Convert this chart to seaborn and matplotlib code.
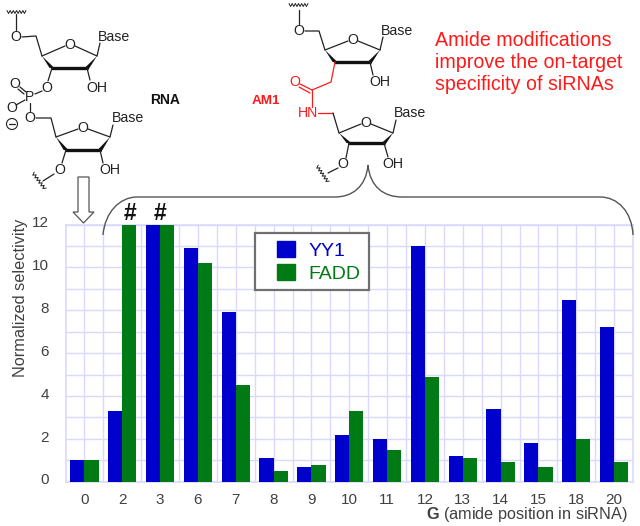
import matplotlib
matplotlib.use("Agg")
import matplotlib.pyplot as plt
from matplotlib.legend_handler import HandlerPatch
from matplotlib.path import Path
from matplotlib.patches import Circle, PathPatch, Polygon, Rectangle
from matplotlib.transforms import ScaledTranslation
import pandas as pd
import seaborn as sns

positions = ["0", "2", "3", "6", "7", "8", "9", "10", "11", "12", "13", "14", "15", "18", "20"]
yy1 = [1, 3.3, 12, 10.9, 7.9, 1.1, 0.7, 2.2, 2.0, 11, 1.2, 3.4, 1.8, 8.5, 7.2]
fadd = [1, 12, 12, 10.2, 4.5, 0.5, 0.8, 3.3, 1.5, 4.9, 1.1, 0.9, 0.7, 2.0, 0.9]

BLUE = "#0000CC"
GREEN = "#007A14"
GRID = "#D9D9FF"
GREY = "#404040"
RED = "#FF1A1A"

sns.set_theme(style="white")
plt.rcParams["font.family"] = ["Liberation Sans", "DejaVu Sans"]
plt.rcParams["mathtext.fontset"] = "custom"
plt.rcParams["mathtext.bf"] = "Liberation Sans:bold"
plt.rcParams["mathtext.rm"] = "Liberation Sans"

df = pd.DataFrame({"pos": positions * 2,
                   "value": yy1 + fadd,
                   "series": ["YY1"] * len(yy1) + ["FADD"] * len(fadd)})

W, H = 640, 526
fig = plt.figure(figsize=(6.4, 5.26), dpi=100)
ax = fig.add_axes([65.5 / W, 1 - 481.7 / H, 567.5 / W, 257.2 / H])

sns.barplot(data=df, x="pos", y="value", hue="series", order=positions, ax=ax,
            palette={"YY1": BLUE, "FADD": GREEN}, width=0.75, gap=0,
            saturation=1, errorbar=None, legend=False, zorder=3, linewidth=0)

ax.set_xlim(-0.5, len(positions) - 0.5)
ax.set_ylim(0, 12)
ax.set_yticks(range(0, 13, 2))
ax.set_yticks(range(1, 12, 2), minor=True)
ax.set_xticks([i + 0.5 for i in range(len(positions) - 1)], minor=True)
ax.grid(which="both", color=GRID, lw=1)
ax.set_axisbelow(True)
ax.tick_params(which="both", length=0)
ax.tick_params(axis="x", labelsize=11, labelcolor=GREY, pad=8)
ax.tick_params(axis="y", labelsize=11, labelcolor=GREY, pad=12)
for lab in ax.get_yticklabels():
    lab.set_transform(lab.get_transform() + ScaledTranslation(0, 2 / 72, fig.dpi_scale_trans))
for s in ax.spines.values():
    s.set_color(GRID)
    s.set_linewidth(1.2)

ax.set_ylabel("Normalized selectivity", fontsize=11.7, color=GREY, labelpad=3, y=0.714)
ax.set_xlabel(r"$\mathbf{G}$ (amide position in siRNA)", fontsize=11.7, color=GREY, labelpad=-1, x=0.99, ha="right")


def legend_box(legend, orig_handle, xdescent, ydescent, width, height, fontsize):
    return Rectangle((width - 13 - xdescent, -ydescent), 13, height)


bars = [Rectangle((0, 0), 1, 1, color=BLUE), Rectangle((0, 0), 1, 1, color=GREEN)]
leg = ax.legend(bars, ["YY1", "FADD"], loc="upper left",
                bbox_to_anchor=((255 - 65.5) / 567.5, (481.7 - 233) / 257.2),
                borderaxespad=0, fancybox=False, framealpha=1, fontsize=14,
                edgecolor="#707070", labelspacing=0.2, handlelength=1.65,
                handleheight=0.93, handletextpad=0.72, borderpad=0.4,
                handler_map={Rectangle: HandlerPatch(patch_func=legend_box)})
leg.get_frame().set_linewidth(1.6)
leg.set_zorder(5)
leg.get_texts()[0].set_color(BLUE)
leg.get_texts()[1].set_color(GREEN)

# drawing layer on top, in pixels of the picture
art = fig.add_axes([0, 0, 1, 1], facecolor="none", zorder=10)
art.set_xlim(0, W)
art.set_ylim(H, 0)
art.axis("off")


def line(pts, color="#222222", lw=0.9):
    art.plot([p[0] for p in pts], [p[1] for p in pts], color=color, lw=lw, solid_capstyle="round")


def label(x, y, s, color="#222222", size=10.2, **kw):
    art.text(x, y, s, color=color, fontsize=size, ha="center", va="center", **kw)


def wedge(a, b, w=2.4):
    # narrow at a, wide at b
    art.add_patch(Polygon([a, (b[0] - w, b[1]), (b[0] + w, b[1])], color="#111111", lw=0))


def squiggle(a, b, n=6, amp=1.5):
    pts = []
    dx, dy = b[0] - a[0], b[1] - a[1]
    ln = (dx ** 2 + dy ** 2) ** 0.5
    nx, ny = -dy / ln, dx / ln
    for i in range(n * 2 + 1):
        t = i / (n * 2)
        o = amp * (1 if i % 2 else -1)
        pts.append((a[0] + dx * t + nx * o, a[1] + dy * t + ny * o))
    line(pts, lw=0.7)


def ring(o, c4, c3, c2, c1):
    line([c4, (o[0] - 5, o[1] + 1)])
    line([(o[0] + 5, o[1] + 1), c1])
    wedge(c4, c3)
    wedge(c1, c2)
    line([c3, c2], color="#111111", lw=2.4)
    label(o[0], o[1], "O")


# RNA structure
ring((70, 45), (42, 56), (52, 68), (87, 68), (97, 56))
label(114, 37, "Base")
line([(97, 56), (100, 43)])
line([(42, 56), (36, 36), (22, 37)])
label(16, 37, "O")
line([(16, 30), (16, 14)])
squiggle((7, 12), (26, 12))
line([(52, 68), (48, 81)])
label(47, 88, "O")
line([(87, 68), (90, 80)])
label(97, 88, "OH")
line([(42, 91), (35, 94)])
label(30, 97, "P", size=10)
label(15, 84, "O")
line([(20, 87), (26, 92)])
line([(18, 89), (24, 94)])
label(12, 108, "O")
line([(16, 105), (25, 100)])
art.add_patch(Circle((12, 124), 5.5, fill=False, ec="#222222", lw=0.8))
line([(9, 124), (15, 124)])
line([(30, 103), (30, 111)])
label(30, 118, "O")
line([(36, 118), (51, 118), (56, 137)])
ring((83, 128), (56, 137), (66, 150), (100, 150), (110, 137))
label(128, 118, "Base")
line([(110, 137), (113, 125)])
line([(100, 150), (103, 163)])
label(110, 170, "OH")
line([(66, 150), (62, 163)])
label(60, 170, "O")
line([(54, 174), (43, 181)])
squiggle((33, 173), (45, 189))
label(165, 100, "RNA", size=10, fontweight="bold", color="#111111")

# AM1 structure
ring((353, 40), (325, 50), (335, 62), (370, 62), (380, 50))
label(397, 31, "Base")
line([(380, 50), (383, 37)])
line([(325, 50), (319, 31), (305, 31)])
label(299, 31, "O")
line([(299, 24), (299, 10)])
squiggle((289, 5), (308, 5))
line([(370, 62), (373, 75)])
label(380, 82, "OH")
line([(335, 62), (331, 82), (312, 90)], color=RED)
label(295, 82, "O", color=RED)
line([(300, 84), (312, 90)], color=RED)
line([(299, 87), (310, 93)], color=RED)
line([(312, 90), (312, 107)], color=RED)
label(308, 113, "HN", color=RED)
line([(318, 113), (333, 113)], color=RED)
line([(333, 113), (339, 133)])
ring((366, 123), (339, 133), (349, 143), (384, 143), (393, 133))
label(410, 113, "Base")
line([(393, 133), (396, 120)])
line([(384, 143), (388, 157)])
label(393, 164, "OH")
line([(349, 143), (346, 158)])
label(343, 164, "O")
line([(338, 168), (328, 173)])
squiggle((317, 166), (328, 182))
label(266, 101, "AM1", color=RED, size=9.7, fontweight="bold")

art.text(435, 41, "Amide modifications", color=RED, fontsize=14.1, va="center")
art.text(435, 63, "improve the on-target", color=RED, fontsize=14.1, va="center")
art.text(435, 84, "specificity of siRNAs", color=RED, fontsize=14.1, va="center")

# hash marks over the clipped bars
label(130.5, 213, "#", color="#111111", size=16.5, fontweight="bold")
label(160, 213, "#", color="#111111", size=16.5, fontweight="bold")

# hollow arrow from RNA down to position 0
art.add_patch(Polygon([(78, 177), (89, 177), (89, 212), (94, 212), (83.5, 223), (73, 212), (78, 212)],
                      closed=True, fc="white", ec="#555555", lw=0.9))

# brace linking AM1 to the chart
verts = [(103, 235), (105, 212), (120, 197), (137, 197), (335, 197), (352, 197), (366, 187), (368, 165),
         (370, 187), (384, 197), (402, 197), (600, 197), (618, 197), (632, 212), (633, 235)]
codes = [Path.MOVETO, Path.CURVE4, Path.CURVE4, Path.CURVE4, Path.LINETO, Path.CURVE4, Path.CURVE4, Path.CURVE4,
         Path.CURVE4, Path.CURVE4, Path.CURVE4, Path.LINETO, Path.CURVE4, Path.CURVE4, Path.CURVE4]
art.add_patch(PathPatch(Path(verts, codes), fill=False, ec="#555555", lw=1.0))

fig.savefig("out.png", dpi=100)
